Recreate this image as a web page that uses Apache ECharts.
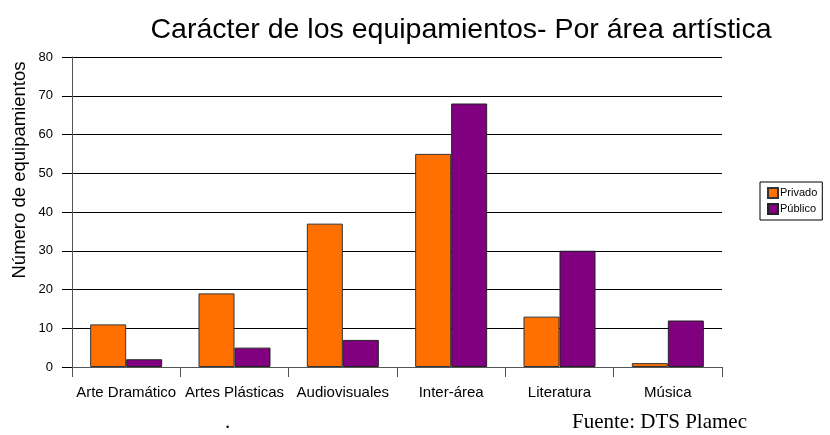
<!DOCTYPE html>
<html><head><meta charset="utf-8">
<script src="https://cdn.jsdelivr.net/npm/echarts@6/dist/echarts.min.js"></script>
<style>html,body{margin:0;padding:0;background:#fff}#c{width:830px;height:435px}</style>
</head><body><div id="c"></div>
<script>
const categories = ["Arte Dramático", "Artes Plásticas", "Audiovisuales", "Inter-área", "Literatura", "Música"];
const privado = [11, 19, 37, 55, 13, 1];
const publico = [2, 5, 7, 68, 30, 12];
const seriesNames = ["Privado", "Público"];
const yTitle = 'Número de equipamientos';

const chart = echarts.init(document.getElementById('c'));
const F = '"Liberation Sans", Arial, sans-serif';
chart.setOption({
  animation: false,
  backgroundColor: '#fff',
  title: {
    text: 'Carácter de los equipamientos- Por área artística',
    left: 456, top: 11, textAlign: 'center',
    textStyle: {fontFamily: F, fontSize: 28.5, fontWeight: 'normal', color: '#000'}
  },
  legend: {
    orient: 'vertical', left: 760, top: 182,
    data: seriesNames,
    itemWidth: 10, itemHeight: 10, itemGap: 4,
    padding: [5, 5, 5, 7],
    borderColor: '#000', borderWidth: 1,
    icon: 'rect',
    textStyle: {fontFamily: F, fontSize: 11, color: '#000', padding: [0, 0, 0, -3]}
  },
  grid: {left: 72, right: 108, top: 57, bottom: 68, containLabel: false, outerBoundsMode: 'none'},
  xAxis: {
    type: 'category', data: categories,
    axisLine: {lineStyle: {color: '#555', width: 1}},
    axisTick: {show: true, alignWithLabel: false, length: 10, lineStyle: {color: '#555'}},
    axisLabel: {fontFamily: F, fontSize: 15, color: '#000', margin: 18, interval: 0}
  },
  yAxis: {
    type: 'value', min: 0, max: 80, interval: 10,
    axisLine: {show: true, lineStyle: {color: '#555'}},
    axisTick: {show: true, length: 10, lineStyle: {color: '#000'}},
    axisLabel: {fontFamily: F, fontSize: 13, color: '#000', margin: 19},
    splitLine: {lineStyle: {color: '#000', width: 1}}
  },
  series: [
    {name: seriesNames[0], type: 'bar', data: privado, barWidth: 36, barGap: '0%',
     itemStyle: {color: '#ff7000', borderColor: '#333', borderWidth: 1}},
    {name: seriesNames[1], type: 'bar', data: publico, barWidth: 36, barGap: '0%',
     itemStyle: {color: '#800080', borderColor: '#222', borderWidth: 1}}
  ],
  graphic: [
    {type: 'text', x: 20, y: 170, rotation: Math.PI / 2,
     style: {text: yTitle, font: '18.5px "Liberation Sans", Arial, sans-serif', fill: '#000', align: 'center', verticalAlign: 'middle'}},
    {type: 'text', left: 225, top: 412, style: {text: '.', font: '21px "Liberation Serif", serif', fill: '#000'}},
    {type: 'text', left: 572, top: 412, style: {text: 'Fuente: DTS Plamec', font: '21px "Liberation Serif", serif', fill: '#000'}}
  ]
});
</script></body></html>
